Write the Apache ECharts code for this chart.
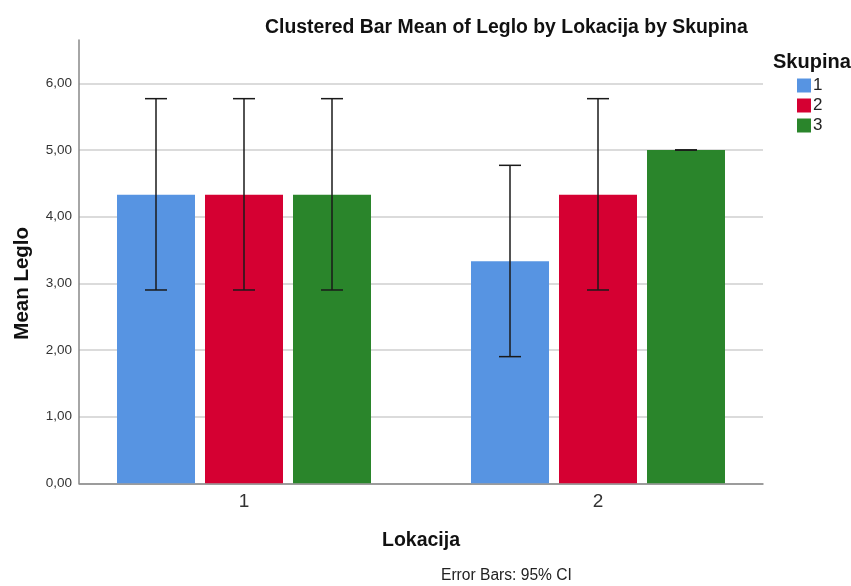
<!DOCTYPE html>
<html>
<head>
<meta charset="utf-8">
<script src="https://cdn.jsdelivr.net/npm/echarts@6/dist/echarts.min.js"></script>
<style>html,body{margin:0;padding:0;background:#fff}#c{width:851px;height:586px}</style>
</head>
<body>
<div id="c"></div>
<script>
// ---- data ----
const categories = ['1', '2'];
const groups = ['1', '2', '3'];
const meanSkupina1 = [4.33, 3.33];
const meanSkupina2 = [4.33, 4.33];
const meanSkupina3 = [4.33, 5.00];
const lowSkupina1 = [2.90, 1.90];
const highSkupina1 = [5.77, 4.77];
const lowSkupina2 = [2.90, 2.90];
const highSkupina2 = [5.77, 5.77];
const lowSkupina3 = [2.90, 5.00];
const highSkupina3 = [5.77, 5.00];
const yTicks = [0, 1, 2, 3, 4, 5, 6];

const colors = ['#5794E2', '#D50032', '#2A852B'];
const FONT = '"Liberation Sans", Arial, sans-serif';
const BAR_W = 78, BAR_GAP = 10, CAP = 22;
const Y_TOP = 6.65;

const chart = echarts.init(document.getElementById('c'));

function errSeries(idx, lows, highs) {
  return {
    type: 'custom', xAxisIndex: 2, yAxisIndex: 2, z: 10, silent: true,
    data: categories.map((c, i) => [i, lows[i], highs[i]]),
    renderItem: (params, api) => {
      const lo = api.coord([api.value(0), api.value(1)]);
      const hi = api.coord([api.value(0), api.value(2)]);
      const x = lo[0] + (idx - 1) * (BAR_W + BAR_GAP);
      const st = { stroke: '#1a1a1a', lineWidth: 1.5 };
      return { type: 'group', children: [
        { type: 'line', shape: { x1: x, y1: hi[1], x2: x, y2: lo[1] }, style: st },
        { type: 'line', shape: { x1: x - CAP / 2, y1: hi[1], x2: x + CAP / 2, y2: hi[1] }, style: st },
        { type: 'line', shape: { x1: x - CAP / 2, y1: lo[1], x2: x + CAP / 2, y2: lo[1] }, style: st }
      ]};
    }
  };
}

const means = [meanSkupina1, meanSkupina2, meanSkupina3];
const lows = [lowSkupina1, lowSkupina2, lowSkupina3];
const highs = [highSkupina1, highSkupina2, highSkupina3];

const option = {
  animation: false,
  backgroundColor: '#fff',
  textStyle: { fontFamily: FONT },
  title: [
    { text: 'Clustered Bar Mean of Leglo by Lokacija by Skupina', left: 260, top: 13,
      textStyle: { fontFamily: FONT, fontSize: 19.4, fontWeight: 'bold', color: '#111' } },
    { text: 'Skupina', left: 768, top: 47,
      textStyle: { fontFamily: FONT, fontSize: 20, fontWeight: 'bold', color: '#111' } }
  ],
  legend: {
    data: groups, orient: 'vertical', left: 797, top: 77, itemWidth: 14, itemHeight: 14,
    itemGap: 3, icon: 'rect', padding: 0,
    textStyle: { fontFamily: FONT, fontSize: 17, lineHeight: 14, color: '#222', padding: [2, 0, 0, -3] }
  },
  grid: [
    { left: 79, right: 88, top: 40, bottom: 102.7 },
    { left: 79, right: 88, top: 83.3, bottom: 102.7 },
    { left: 67, right: 76, top: 40, bottom: 102.7 }
  ],
  xAxis: [
    { type: 'category', gridIndex: 0, data: categories,
      axisLine: { show: true, lineStyle: { color: '#888', width: 1.5 } },
      axisTick: { show: false }, axisLabel: { show: false }, splitLine: { show: false },
      name: 'Lokacija', nameLocation: 'middle', nameGap: 47,
      nameTextStyle: { fontFamily: FONT, fontSize: 19.5, fontWeight: 'bold', color: '#111' } },
    { type: 'category', gridIndex: 1, data: categories, show: false },
    { type: 'category', gridIndex: 2, data: categories,
      axisLine: { show: false }, axisTick: { show: false }, splitLine: { show: false },
      axisLabel: { fontFamily: FONT, fontSize: 19, color: '#333', margin: 9 } }
  ],
  yAxis: [
    { type: 'value', gridIndex: 0, min: 0, max: Y_TOP,
      axisLine: { show: true, lineStyle: { color: '#888', width: 1.5 } },
      axisTick: { show: false }, axisLabel: { show: false }, splitLine: { show: false } },
    { type: 'value', gridIndex: 1, min: yTicks[0], max: yTicks[yTicks.length - 1], interval: 1,
      axisLine: { show: false }, axisTick: { show: false },
      splitLine: { show: true, lineStyle: { color: '#cfcfcf', width: 1.5 } },
      axisLabel: { fontFamily: FONT, fontSize: 13.5, color: '#333', margin: 7,
        formatter: v => v.toFixed(2).replace('.', ',') },
      name: 'Mean Leglo', nameLocation: 'middle', nameGap: 46, nameRotate: 90,
      nameTextStyle: { fontFamily: FONT, fontSize: 20.5, fontWeight: 'bold', color: '#111' } },
    { type: 'value', gridIndex: 2, min: 0, max: Y_TOP, show: false, splitLine: { show: false } }
  ],
  graphic: [
    { type: 'text', left: 441, top: 568, style: { text: 'Error Bars: 95% CI', font: '15.6px ' + FONT, fill: '#222' } }
  ],
  series: [
    ...groups.map((g, i) => ({
      name: g, type: 'bar', xAxisIndex: 2, yAxisIndex: 2, data: means[i],
      barWidth: BAR_W, barGap: (BAR_GAP / BAR_W * 100) + '%',
      itemStyle: { color: colors[i] }
    })),
    ...groups.map((g, i) => errSeries(i, lows[i], highs[i]))
  ]
};
chart.setOption(option);
</script>
</body>
</html>
